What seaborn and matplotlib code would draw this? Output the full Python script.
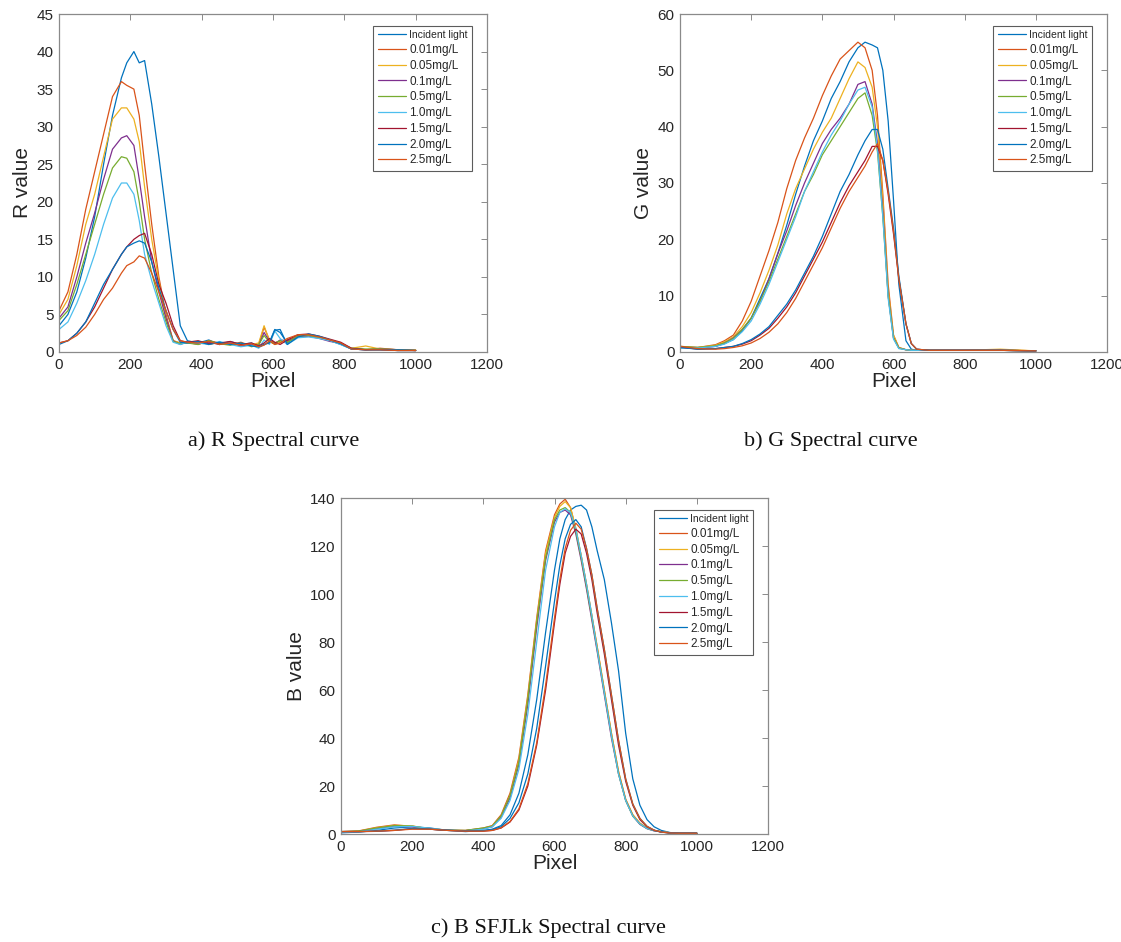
import numpy as np
import pandas as pd
import seaborn as sns
import matplotlib.pyplot as plt
from matplotlib.lines import Line2D

# ---------------- data ----------------
labels = ["Incident light", "0.01mg/L", "0.05mg/L", "0.1mg/L", "0.5mg/L",
          "1.0mg/L", "1.5mg/L", "2.0mg/L", "2.5mg/L"]
colors = ["#0072BD", "#D95319", "#EDB120", "#7E2F8E", "#77AC30",
          "#4DBEEE", "#A2142F", "#0072BD", "#D95319"]

# R channel
R_x = [0, 25, 50, 75, 100, 125, 150, 175, 190, 210, 225, 240, 260, 280, 300, 320, 340,
       360, 390, 420, 450, 480, 510, 540, 560, 575, 590, 605, 620, 640, 670, 700, 730,
       760, 790, 820, 860, 900, 950, 1000]
R_incident = [3.5, 5, 8, 12.5, 18, 25, 31.5, 36.5, 38.5, 40, 38.5, 38.8, 33, 26, 18.5, 11, 3.5,
              1.5, 1.2, 1.6, 1.0, 1.4, 1.0, 1.2, 0.6, 1.0, 1.3, 3.0, 2.6, 1.2, 2.2, 2.3, 2.0,
              1.5, 1.0, 0.4, 0.3, 0.3, 0.2, 0.2]
R_001 = [5.5, 8, 13, 19, 24, 29, 34, 36, 35.5, 35, 31.5, 25, 17, 10, 5, 1.5, 1.2,
         1.3, 1.0, 1.5, 1.2, 1.0, 1.3, 0.8, 1.0, 3.3, 1.6, 1.2, 1.5, 1.4, 2.0, 2.3, 2.0,
         1.6, 1.2, 0.4, 0.3, 0.5, 0.3, 0.2]
R_005 = [5, 7, 11.5, 17, 21, 26, 31, 32.5, 32.5, 31, 28, 22, 15, 9.5, 4.5, 1.5, 1.2,
         1.2, 1.4, 1.0, 1.3, 1.1, 0.9, 1.0, 1.2, 3.5, 1.5, 1.0, 1.3, 1.6, 2.1, 2.2, 1.9,
         1.5, 1.1, 0.5, 0.8, 0.4, 0.3, 0.3]
R_01 = [4.5, 6, 10, 14.5, 18.5, 23, 27, 28.5, 28.8, 27.5, 23, 18, 12, 8, 4.5, 1.5, 1.0,
        1.4, 1.1, 1.3, 1.0, 1.2, 0.8, 1.0, 0.9, 2.6, 1.4, 1.1, 1.6, 1.5, 2.0, 2.1, 1.8,
        1.4, 1.2, 0.4, 0.3, 0.4, 0.3, 0.2]
R_05 = [4.2, 5.5, 9, 13, 17, 21, 24.5, 26, 25.8, 24, 20, 15, 10.5, 7, 4, 1.4, 1.1,
        1.2, 1.0, 1.5, 1.1, 0.9, 1.2, 0.7, 1.0, 2.2, 1.3, 1.2, 1.5, 1.3, 2.1, 2.2, 1.9,
        1.6, 1.1, 0.5, 0.4, 0.4, 0.3, 0.2]
R_10 = [3, 4, 6.5, 9.5, 13, 17, 20.5, 22.5, 22.5, 21, 17.5, 13, 9.5, 6.5, 3.5, 1.3, 1.0,
        1.3, 1.2, 1.0, 1.4, 1.0, 0.7, 0.9, 0.5, 1.6, 1.0, 2.8, 1.8, 1.0, 1.9, 2.0, 1.8,
        1.5, 1.0, 0.4, 0.3, 0.3, 0.2, 0.2]
R_15 = [1.2, 1.5, 2.5, 4, 6, 8.5, 11, 13, 14, 15, 15.5, 15.8, 13, 9, 6.5, 3.5, 1.5,
        1.3, 1.5, 1.1, 1.2, 1.4, 1.0, 1.2, 0.8, 1.2, 1.8, 1.3, 1.0, 1.6, 2.3, 2.4, 2.1,
        1.7, 1.3, 0.5, 0.3, 0.3, 0.2, 0.2]
R_20 = [1.0, 1.5, 2.5, 4, 6.5, 9, 11, 13, 14, 14.5, 14.8, 14.5, 12, 8.5, 5.5, 3, 1.3,
        1.2, 1.4, 1.0, 1.3, 1.0, 1.2, 0.8, 0.7, 1.0, 1.2, 2.9, 3.0, 1.0, 2.0, 2.4, 2.1,
        1.6, 1.1, 0.4, 0.3, 0.3, 0.3, 0.2]
R_25 = [1.2, 1.5, 2.2, 3.3, 5, 7, 8.5, 10.5, 11.5, 12, 12.8, 12.5, 10.5, 8, 5.5, 3, 1.5,
        1.3, 1.2, 1.4, 1.0, 1.2, 0.9, 1.1, 0.7, 0.9, 1.5, 1.0, 1.2, 1.8, 2.3, 2.3, 2.0,
        1.6, 1.2, 0.4, 0.3, 0.3, 0.2, 0.2]

# G channel
G_x = [0, 50, 100, 125, 150, 175, 200, 225, 250, 275, 300, 325, 350, 375, 400, 425, 450,
       475, 500, 520, 540, 555, 570, 585, 600, 615, 635, 650, 665, 700, 800, 900, 1000]
G_incident = [0.8, 0.8, 1.0, 1.5, 2.2, 3.8, 6, 9.5, 13, 17.5, 22.5, 28, 33, 37.5, 41, 45, 48,
              51.5, 54, 55, 54.5, 54, 50, 41, 27, 12, 2, 0.5, 0.3, 0.3, 0.3, 0.3, 0.2]
G_001 = [1.0, 0.8, 1.3, 2.0, 3.0, 5.5, 9, 13.5, 18, 23, 29, 34, 38, 41.5, 45.5, 49, 52,
         53.5, 55, 54, 50, 42, 28, 12, 3, 0.8, 0.4, 0.3, 0.3, 0.3, 0.3, 0.4, 0.2]
G_005 = [0.8, 0.8, 1.2, 1.8, 2.7, 4.5, 7, 10.5, 14.5, 19, 24.5, 29, 32.5, 36, 39, 41.5, 45,
         48.5, 51.5, 50.5, 47, 40, 27, 11, 3, 0.8, 0.4, 0.3, 0.3, 0.3, 0.3, 0.5, 0.2]
G_01 = [0.8, 0.7, 1.0, 1.6, 2.5, 4, 6, 9, 13, 17.5, 21.5, 26, 30, 33.5, 37, 39.5, 41.5,
        44, 47.5, 48, 44, 37, 25, 10, 2.5, 0.7, 0.4, 0.3, 0.3, 0.3, 0.3, 0.3, 0.2]
G_05 = [1.0, 0.8, 1.1, 1.6, 2.4, 4, 6, 9, 12.5, 16.5, 20.5, 24.5, 28.5, 31.5, 35, 37.5, 40,
        42.5, 45, 46, 42, 35.5, 24, 10, 2.5, 0.7, 0.4, 0.3, 0.3, 0.3, 0.3, 0.3, 0.2]
G_10 = [0.7, 0.7, 1.0, 1.4, 2.2, 3.6, 5.5, 8.5, 12, 16, 20, 24, 28.5, 32, 35.5, 38.5, 41,
        44, 46.5, 47, 43.5, 36, 24, 9.5, 2.3, 0.6, 0.4, 0.3, 0.3, 0.3, 0.3, 0.3, 0.2]
G_15 = [0.9, 0.5, 0.6, 0.8, 1.0, 1.4, 2, 3, 4.2, 6, 8, 10.5, 13.5, 16.5, 19.5, 23, 26.5,
        29.5, 32, 34, 36.5, 36.5, 34, 28, 21, 13, 5, 1.5, 0.5, 0.3, 0.3, 0.3, 0.2]
G_20 = [0.8, 0.5, 0.6, 0.8, 1.0, 1.5, 2.2, 3.2, 4.5, 6.5, 8.5, 11, 14, 17, 20.5, 24.5, 28.5,
        31.5, 35, 37.5, 39.5, 39.5, 36, 29, 22, 13.5, 5, 1.5, 0.5, 0.3, 0.3, 0.3, 0.2]
G_25 = [1.0, 0.6, 0.5, 0.6, 0.8, 1.1, 1.6, 2.4, 3.5, 5, 7, 9.5, 12.5, 15.5, 18.5, 22, 25.5,
        28.5, 31, 33, 35.5, 37, 34, 28.5, 21.5, 13, 5, 1.5, 0.5, 0.3, 0.3, 0.3, 0.2]

# B channel
B_x = [0, 50, 100, 150, 200, 250, 300, 350, 400, 425, 450, 475, 500, 525, 550, 575, 600,
       615, 630, 645, 660, 675, 690, 705, 720, 740, 760, 780, 800, 820, 840, 860, 880, 900,
       925, 950, 1000]
B_incident = [0.5, 0.8, 1.5, 2.5, 3.0, 2.5, 1.5, 1.0, 1.5, 2, 3.5, 8, 17, 33, 56, 84, 110,
              123, 131, 135, 136.5, 137, 135, 128, 118, 106, 88, 68, 42, 23, 12, 6, 3, 1.5,
              0.6, 0.3, 0.3]
B_001 = [1.0, 1.3, 2.8, 3.8, 3.2, 2.2, 1.6, 1.5, 2.5, 3.5, 8, 17, 32, 58, 90, 118, 133,
         137.5, 139.5, 136, 127, 116, 104, 91, 78, 60, 42, 26, 14.5, 8, 4.5, 2.5, 1.5, 1.0,
         0.5, 0.3, 0.3]
B_005 = [0.8, 1.2, 2.6, 3.6, 3.4, 2.0, 1.5, 1.4, 2.3, 3.2, 7.5, 16, 31, 57, 89, 117, 132,
         136.5, 138.5, 136, 127.5, 116, 104, 91, 78, 60, 42, 26, 14.5, 8, 4.5, 2.5, 1.5, 1.0,
         0.5, 0.3, 0.3]
B_01 = [1.0, 1.1, 2.2, 3.2, 3.0, 2.0, 1.5, 1.4, 2.2, 3, 7, 15, 29, 54, 86, 114, 130,
        134, 135, 133, 125, 114, 102, 89, 76, 58, 40, 25, 14, 7.5, 4, 2.2, 1.3, 0.9,
        0.5, 0.3, 0.3]
B_05 = [1.0, 1.2, 2.5, 3.5, 3.3, 2.1, 1.6, 1.5, 2.5, 3.3, 7.5, 16, 30, 56, 88, 115, 131,
        135, 136, 134, 126, 115, 103, 90, 77, 59, 41, 25, 14, 7.5, 4.2, 2.3, 1.4, 0.9,
        0.5, 0.3, 0.3]
B_10 = [0.6, 0.9, 2.0, 3.0, 3.2, 2.4, 1.5, 1.3, 2.0, 3, 6.5, 14, 27, 50, 80, 110, 128,
        134, 135.5, 134, 127, 116, 104, 91, 77, 59, 41, 25, 14, 7.5, 4.2, 2.3, 1.4, 0.9,
        0.5, 0.3, 0.3]
B_15 = [1.0, 1.0, 1.1, 1.5, 2.2, 2.0, 1.5, 1.2, 1.2, 1.5, 2.5, 5, 10, 20, 37, 60, 88,
        104, 117, 124, 127, 125, 117, 106, 92, 75, 56, 37, 22, 12, 6, 3, 1.5, 0.8,
        0.4, 0.3, 0.3]
B_20 = [1.0, 1.0, 1.2, 1.6, 2.3, 2.0, 1.6, 1.3, 1.4, 1.8, 3, 6.5, 13, 25, 44, 70, 97,
        112, 123, 129, 131, 128, 119, 108, 94, 77, 58, 39, 23, 12.5, 6.5, 3.2, 1.6, 0.8,
        0.4, 0.3, 0.3]
B_25 = [1.0, 1.0, 1.2, 1.5, 2.0, 2.0, 1.5, 1.2, 1.2, 1.5, 2.6, 5.2, 10.5, 21, 38, 62, 90,
        106, 119, 126.5, 129.5, 127, 119, 108, 94, 77, 58, 39, 23, 12.5, 6.5, 3.2, 1.6, 0.8,
        0.4, 0.3, 0.3]

x_ticks = [0, 200, 400, 600, 800, 1000, 1200]
R_yticks = [0, 5, 10, 15, 20, 25, 30, 35, 40, 45]
G_yticks = [0, 10, 20, 30, 40, 50, 60]
B_yticks = [0, 20, 40, 60, 80, 100, 120, 140]

captions = ["a) R Spectral curve", "b) G Spectral curve", "c) B SFJLk Spectral curve"]

# ---------------- style ----------------
sns.set_theme(style="white")
plt.rcParams['font.family'] = ['Liberation Sans', 'DejaVu Sans']

W, H = 1121, 942
fig = plt.figure(figsize=(W / 100, H / 100), dpi=100)
fig.patch.set_facecolor("white")

AX_C = "#8a8a8a"
TXT_C = "#262626"


def make_long(x, series):
    frames = []
    for lab, vals in zip(labels, series):
        frames.append(pd.DataFrame({"Pixel": x, "value": vals, "series": lab}))
    return pd.concat(frames, ignore_index=True)


def panel(rect, x, series, ymax, yticks, ylabel):
    ax = fig.add_axes([rect[0] / W, 1 - rect[3] / H, (rect[2] - rect[0]) / W,
                       (rect[3] - rect[1]) / H])
    df = make_long(x, series)
    for lab, col in zip(labels, colors):
        sub = df[df["series"] == lab]
        sns.lineplot(data=sub, x="Pixel", y="value", color=col, lw=0.9,
                     estimator=None, sort=False, ax=ax, legend=False)
    ax.set_xlim(0, 1200)
    ax.set_ylim(0, ymax)
    ax.set_xticks(x_ticks)
    ax.set_yticks(yticks)
    ax.tick_params(direction="in", top=True, right=True, length=4, width=0.7,
                   colors=AX_C, labelcolor=TXT_C, labelsize=11, pad=4)
    for s in ax.spines.values():
        s.set_color(AX_C)
        s.set_linewidth(0.9)
    ax.set_xlabel("Pixel", fontsize=15, color=TXT_C, labelpad=0)
    ax.set_ylabel(ylabel, fontsize=15, color=TXT_C, labelpad=3)
    handles = [Line2D([], [], color=c, lw=0.9) for c in colors]
    leg = ax.legend(handles, labels, loc="upper right", bbox_to_anchor=(0.965, 0.965),
                    borderaxespad=0, fontsize=8.5, frameon=True, fancybox=False,
                    handlelength=2.4, handletextpad=0.3, labelspacing=0.32,
                    borderpad=0.35)
    leg.get_frame().set_edgecolor("#333333")
    leg.get_frame().set_linewidth(0.8)
    for t in leg.get_texts():
        t.set_color(TXT_C)
    leg.get_texts()[0].set_fontsize(7.5)
    leg.get_texts()[0].set_fontfamily(['Liberation Sans Narrow', 'Liberation Sans'])
    return ax


panel((59, 14, 487, 352), R_x,
      [R_incident, R_001, R_005, R_01, R_05, R_10, R_15, R_20, R_25], 45, R_yticks, "R value")
panel((680, 14, 1107, 352), G_x,
      [G_incident, G_001, G_005, G_01, G_05, G_10, G_15, G_20, G_25], 60, G_yticks, "G value")
panel((341, 498, 768, 834), B_x,
      [B_incident, B_001, B_005, B_01, B_05, B_10, B_15, B_20, B_25], 140, B_yticks, "B value")

cap_font = ['Liberation Serif', 'DejaVu Serif']
fig.text(274 / W, 1 - 441 / H, captions[0], ha="center", va="center", fontsize=16,
         family=cap_font, color="#111111")
fig.text(831 / W, 1 - 441 / H, captions[1], ha="center", va="center", fontsize=16,
         family=cap_font, color="#111111")
fig.text(548 / W, 1 - 928 / H, captions[2], ha="center", va="center", fontsize=16,
         family=cap_font, color="#111111")

fig.savefig("out.png", dpi=100, facecolor="white")
